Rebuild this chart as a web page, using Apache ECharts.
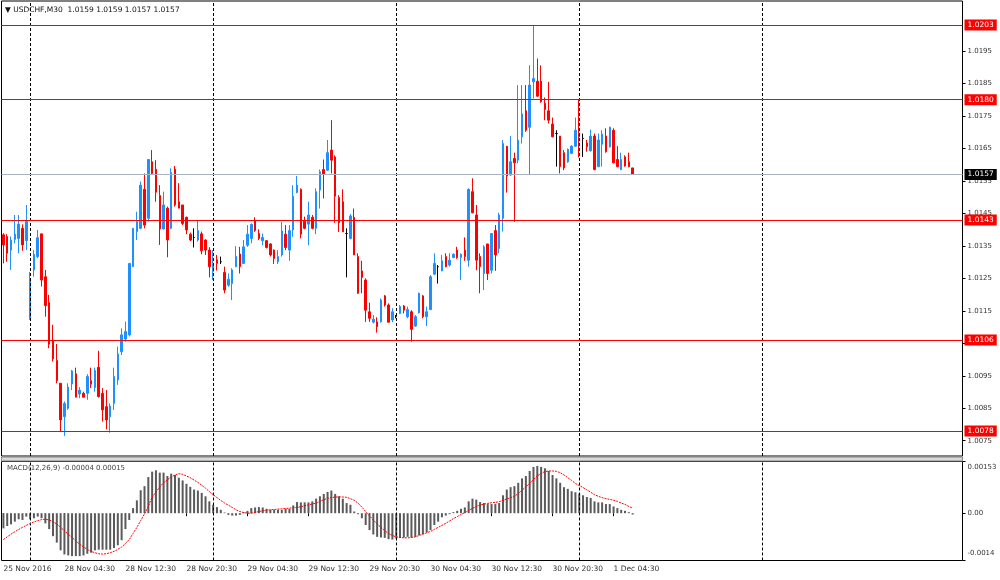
<!DOCTYPE html>
<html><head><meta charset="utf-8">
<script src="https://cdn.jsdelivr.net/npm/echarts@6/dist/echarts.min.js"></script>
<style>html,body{margin:0;padding:0;background:#fff}#c{width:1000px;height:580px}</style>
</head><body><div id="c"></div>
<script>
// ---- data ----
const opens = [1.01384,1.01379,1.01337,1.01370,1.01373,1.01404,1.01366,1.01127,1.01276,1.01317,
1.01387,1.01255,1.01176,1.01060,1.00997,1.00927,1.00824,1.00850,1.00925,1.00956,
1.00894,1.00896,1.00896,1.00935,1.00914,1.00976,1.00896,1.00855,1.00824,1.00865,
1.00937,1.01024,1.01063,1.01076,1.01286,1.01394,1.01404,1.01524,1.01435,1.01609,
1.01586,1.01505,1.01402,1.01466,1.01404,1.01586,1.01486,1.01476,1.01438,1.01386,
1.01376,1.01368,1.01387,1.01368,1.01337,1.01271,1.01307,1.01301,1.01268,1.01229,
1.01234,1.01286,1.01325,1.01296,1.01352,1.01373,1.01427,1.01388,1.01366,1.01366,
1.01356,1.01337,1.01301,1.01322,1.01386,1.01337,1.01399,1.01514,1.01524,1.01426,
1.01417,1.01438,1.01404,1.01522,1.01585,1.01583,1.01645,1.01624,1.01499,1.01486,
1.01388,1.01373,1.01438,1.01317,1.01273,1.01245,1.01147,1.01115,1.01116,1.01116,
1.01196,1.01168,1.01122,1.01132,1.01142,1.01165,1.01132,1.01147,1.01103,1.01144,
1.01196,1.01132,1.01154,1.01263,1.01286,1.01273,1.01317,1.01291,1.01314,1.01337,
1.01314,1.01337,1.01306,1.01517,1.01445,1.01317,1.01265,1.01356,1.01275,1.01397,
1.01342,1.01435,1.01657,1.01568,1.01619,1.01614,1.01686,1.01766,1.01715,1.01855,
1.01857,1.01857,1.01789,1.01766,1.01725,1.01696,1.01688,1.01637,1.01609,1.01635,
1.01657,1.01696,1.01681,1.01667,1.01643,1.01688,1.01594,1.01663,1.01688,1.01655,
1.01706,1.01616,1.01585,1.01624,1.01609,1.01590];
const highs = [1.01389,1.01386,1.01379,1.01445,1.01445,1.01416,1.01476,1.01270,1.01337,1.01399,
1.01387,1.01276,1.01199,1.01107,1.01048,1.00927,1.00871,1.00927,1.00968,1.00975,
1.00915,1.00901,1.00955,1.00975,1.00975,1.01027,1.00912,1.00906,1.00865,1.00975,
1.01040,1.01096,1.01117,1.01296,1.01404,1.01455,1.01548,1.01573,1.01616,1.01645,
1.01614,1.01537,1.01517,1.01471,1.01589,1.01596,1.01543,1.01476,1.01440,1.01391,
1.01404,1.01427,1.01394,1.01370,1.01346,1.01337,1.01322,1.01317,1.01286,1.01265,
1.01281,1.01349,1.01347,1.01368,1.01414,1.01419,1.01438,1.01401,1.01388,1.01368,
1.01358,1.01339,1.01337,1.01424,1.01414,1.01414,1.01537,1.01565,1.01527,1.01440,
1.01486,1.01445,1.01527,1.01585,1.01616,1.01676,1.01737,1.01629,1.01506,1.01524,
1.01404,1.01448,1.01465,1.01327,1.01304,1.01250,1.01175,1.01137,1.01130,1.01188,
1.01199,1.01173,1.01158,1.01137,1.01168,1.01168,1.01163,1.01152,1.01137,1.01206,
1.01199,1.01163,1.01260,1.01327,1.01291,1.01322,1.01327,1.01327,1.01327,1.01347,
1.01327,1.01376,1.01527,1.01558,1.01476,1.01327,1.01352,1.01356,1.01388,1.01414,
1.01452,1.01676,1.01657,1.01688,1.01637,1.01845,1.01845,1.01845,1.01906,1.02027,
1.01927,1.01906,1.01807,1.01855,1.01745,1.01706,1.01688,1.01645,1.01650,1.01660,
1.01745,1.01799,1.01696,1.01676,1.01708,1.01696,1.01696,1.01706,1.01712,1.01717,
1.01712,1.01657,1.01637,1.01629,1.01637,1.01590];
const lows = [1.01296,1.01301,1.01276,1.01358,1.01327,1.01335,1.01337,1.01122,1.01255,1.01312,
1.01225,1.01132,1.01035,1.00994,1.00927,1.00778,1.00765,1.00845,1.00906,1.00884,
1.00881,1.00884,1.00876,1.00912,1.00901,1.00883,1.00809,1.00785,1.00775,1.00845,
1.00922,1.01014,1.01055,1.01071,1.01286,1.01368,1.01401,1.01404,1.01425,1.01568,
1.01486,1.01353,1.01401,1.01315,1.01401,1.01471,1.01466,1.01414,1.01386,1.01365,
1.01345,1.01363,1.01324,1.01322,1.01253,1.01245,1.01274,1.01294,1.01204,1.01224,
1.01183,1.01284,1.01265,1.01294,1.01347,1.01358,1.01393,1.01368,1.01352,1.01342,
1.01317,1.01294,1.01294,1.01317,1.01337,1.01304,1.01378,1.01512,1.01373,1.01401,
1.01352,1.01401,1.01386,1.01465,1.01496,1.01581,1.01573,1.01421,1.01393,1.01393,
1.01253,1.01370,1.01322,1.01202,1.01204,1.01116,1.01116,1.01111,1.01083,1.01114,
1.01163,1.01114,1.01115,1.01127,1.01140,1.01142,1.01127,1.01055,1.01101,1.01142,
1.01127,1.01103,1.01152,1.01260,1.01234,1.01272,1.01284,1.01286,1.01312,1.01310,
1.01245,1.01304,1.01286,1.01450,1.01275,1.01204,1.01214,1.01245,1.01265,1.01273,
1.01327,1.01394,1.01514,1.01566,1.01424,1.01604,1.01665,1.01701,1.01568,1.01804,
1.01809,1.01791,1.01737,1.01727,1.01684,1.01594,1.01573,1.01583,1.01606,1.01633,
1.01655,1.01622,1.01624,1.01640,1.01640,1.01583,1.01592,1.01594,1.01637,1.01653,
1.01604,1.01592,1.01583,1.01594,1.01592,1.01570];
const closes = [1.01353,1.01327,1.01368,1.01386,1.01417,1.01353,1.01425,1.01245,1.01324,1.01375,
1.01245,1.01166,1.01047,1.01002,1.00935,1.00814,1.00865,1.00915,1.00965,1.00884,
1.00906,1.00884,1.00948,1.00924,1.00966,1.00886,1.00845,1.00814,1.00857,1.00948,
1.01017,1.01076,1.01086,1.01296,1.01404,1.01425,1.01537,1.01414,1.01616,1.01573,
1.01515,1.01402,1.01476,1.01368,1.01576,1.01476,1.01466,1.01419,1.01399,1.01368,
1.01376,1.01397,1.01335,1.01337,1.01286,1.01296,1.01296,1.01301,1.01214,1.01247,
1.01276,1.01317,1.01286,1.01347,1.01386,1.01416,1.01397,1.01373,1.01376,1.01345,
1.01322,1.01311,1.01317,1.01396,1.01345,1.01397,1.01503,1.01537,1.01386,1.01404,
1.01445,1.01404,1.01517,1.01578,1.01571,1.01637,1.01614,1.01503,1.01421,1.01393,
1.01388,1.01442,1.01322,1.01204,1.01253,1.01152,1.01127,1.01124,1.01101,1.01183,
1.01168,1.01115,1.01147,1.01132,1.01163,1.01152,1.01154,1.01093,1.01132,1.01204,
1.01132,1.01147,1.01255,1.01296,1.01286,1.01304,1.01286,1.01306,1.01324,1.01314,
1.01324,1.01317,1.01524,1.01452,1.01306,1.01286,1.01347,1.01265,1.01388,1.01322,
1.01445,1.01665,1.01565,1.01609,1.01606,1.01676,1.01756,1.01706,1.01845,1.01865,
1.01811,1.01794,1.01770,1.01737,1.01686,1.01696,1.01594,1.01590,1.01647,1.01657,
1.01706,1.01686,1.01681,1.01655,1.01688,1.01585,1.01676,1.01694,1.01640,1.01715,
1.01606,1.01594,1.01616,1.01596,1.01594,1.01570];
const macdHist = [-0.00045,-0.00038,-0.00033,-0.00025,-0.00018,-0.00020,-0.00010,-0.00018,-0.00015,-0.00010,
-0.00015,-0.00030,-0.00047,-0.00068,-0.00087,-0.00110,-0.00122,-0.00125,-0.00127,-0.00127,
-0.00127,-0.00125,-0.00120,-0.00117,-0.00110,-0.00108,-0.00108,-0.00108,-0.00108,-0.00103,
-0.00095,-0.00080,-0.00047,-0.00020,0.00015,0.00038,0.00068,0.00080,0.00107,0.00123,
0.00127,0.00120,0.00120,0.00110,0.00117,0.00113,0.00105,0.00097,0.00087,0.00078,
0.00070,0.00067,0.00060,0.00050,0.00035,0.00025,0.00018,0.00010,0.00002,-0.00005,
-0.00007,-0.00007,-0.00005,0.00003,0.00007,0.00015,0.00017,0.00018,0.00017,0.00013,
0.00010,0.00010,0.00010,0.00010,0.00013,0.00013,0.00023,0.00033,0.00032,0.00032,
0.00032,0.00035,0.00043,0.00050,0.00057,0.00063,0.00067,0.00057,0.00050,0.00043,
0.00030,0.00025,0.00005,-0.00003,-0.00015,-0.00035,-0.00050,-0.00063,-0.00070,-0.00072,
-0.00073,-0.00077,-0.00078,-0.00075,-0.00073,-0.00072,-0.00070,-0.00072,-0.00070,-0.00065,
-0.00062,-0.00057,-0.00050,-0.00035,-0.00025,-0.00012,-0.00007,-0.00003,0.00003,0.00007,
0.00013,0.00017,0.00035,0.00043,0.00040,0.00033,0.00030,0.00027,0.00027,0.00027,
0.00030,0.00053,0.00070,0.00077,0.00080,0.00090,0.00103,0.00110,0.00125,0.00137,
0.00140,0.00137,0.00133,0.00125,0.00113,0.00103,0.00090,0.00077,0.00072,0.00065,
0.00062,0.00058,0.00053,0.00048,0.00045,0.00035,0.00032,0.00032,0.00027,0.00027,
0.00020,0.00015,0.00010,0.00007,0.00003,-0.00004];
const macdSignal = [-0.00078,-0.00070,-0.00062,-0.00055,-0.00048,-0.00042,-0.00036,-0.00031,-0.00026,-0.00022,
-0.00019,-0.00018,-0.00020,-0.00025,-0.00032,-0.00042,-0.00052,-0.00062,-0.00072,-0.00082,
-0.00092,-0.00100,-0.00107,-0.00113,-0.00117,-0.00120,-0.00121,-0.00120,-0.00117,-0.00113,
-0.00107,-0.00100,-0.00090,-0.00078,-0.00060,-0.00042,-0.00022,-0.00002,0.00020,0.00048,
0.00062,0.00078,0.00090,0.00099,0.00107,0.00113,0.00117,0.00115,0.00110,0.00105,
0.00098,0.00091,0.00083,0.00074,0.00064,0.00055,0.00046,0.00038,0.00030,0.00024,
0.00017,0.00010,0.00005,0.00002,0.00000,0.00000,0.00002,0.00005,0.00007,0.00009,
0.00010,0.00011,0.00012,0.00013,0.00014,0.00015,0.00016,0.00017,0.00019,0.00022,
0.00025,0.00027,0.00030,0.00035,0.00040,0.00044,0.00046,0.00048,0.00048,0.00048,
0.00047,0.00043,0.00038,0.00030,0.00018,0.00005,-0.00008,-0.00020,-0.00032,-0.00042,
-0.00052,-0.00060,-0.00066,-0.00070,-0.00072,-0.00073,-0.00073,-0.00072,-0.00070,-0.00066,
-0.00062,-0.00058,-0.00054,-0.00048,-0.00042,-0.00036,-0.00030,-0.00023,-0.00016,-0.00010,
-0.00004,0.00002,0.00008,0.00014,0.00020,0.00024,0.00027,0.00029,0.00031,0.00032,
0.00034,0.00038,0.00042,0.00046,0.00050,0.00058,0.00068,0.00078,0.00088,0.00100,
0.00110,0.00118,0.00123,0.00125,0.00125,0.00124,0.00120,0.00113,0.00105,0.00097,
0.00088,0.00082,0.00076,0.00069,0.00062,0.00055,0.00050,0.00046,0.00043,0.00041,
0.00038,0.00035,0.00030,0.00026,0.00020,0.00015];
const priceTicks = [1.0195,1.0185,1.0175,1.0165,1.0155,1.0145,1.0135,1.0125,1.0115,1.0105,1.0095,1.0085,1.0075];
const macdTicks = [0.00153, 0, -0.0014];
const macdTickLabels = ['0.00153', '0.00', '-0.0014'];
const levelLines = [1.0203, 1.0180, 1.0143, 1.0106, 1.0078];
const bidLine = 1.0157;
const xTickCats = ['25 Nov 20:30','28 Nov 04:30','28 Nov 12:30','28 Nov 20:30','29 Nov 04:30','29 Nov 12:30','29 Nov 20:30','30 Nov 04:30','30 Nov 12:30','30 Nov 20:30','1 Dec 04:30'];
const xTickLabels = ['25 Nov 2016','28 Nov 04:30','28 Nov 12:30','28 Nov 20:30','29 Nov 04:30','29 Nov 12:30','29 Nov 20:30','30 Nov 04:30','30 Nov 12:30','30 Nov 20:30','1 Dec 04:30'];
const daySeparators = ['28 Nov 00:00','29 Nov 00:00','30 Nov 00:00','1 Dec 00:00','2 Dec 00:00'];
const titleText = '\u25BC USDCHF,M30  1.0159 1.0159 1.0157 1.0157';
const macdTitle = 'MACD(12,26,9) -0.00004 0.00015';

// ---- M30 time categories (weekend skipped), including empty future slots ----
const NCAT = 252;
const MON = ['Jan','Feb','Mar','Apr','May','Jun','Jul','Aug','Sep','Oct','Nov','Dec'];
const pad = n => (n < 10 ? '0' : '') + n;
const categories = [];
(function () {
  let t = Date.UTC(2016, 10, 25, 20, 30);
  for (let i = 0; i < NCAT; i++) {
    const d = new Date(t);
    categories.push(d.getUTCDate() + ' ' + MON[d.getUTCMonth()] + ' ' + pad(d.getUTCHours()) + ':' + pad(d.getUTCMinutes()));
    if (d.getUTCDate() === 25 && d.getUTCHours() === 23 && d.getUTCMinutes() === 30) t = Date.UTC(2016, 10, 28, 0, 0);
    else t += 1800000;
  }
})();

const candleData = opens.map((o, i) => [o, closes[i], lows[i], highs[i]]);
const FONT = 'DejaVu Sans';
const tickSet = new Set(xTickCats);

const sepLines = daySeparators.map(c => ({
  xAxis: categories.indexOf(c),
  lineStyle: { color: '#000', width: 1, type: [3, 2] },
  label: { show: false }
}));
const lvlLabel = (txt, bg) => ({ show: true, position: 'end', distance: 2, formatter: txt, color: '#fff',
  backgroundColor: bg, padding: [2, 3, 1, 3], fontSize: 7.5, fontFamily: FONT });
const levelMarks = levelLines.map(v => ({
  yAxis: v,
  label: lvlLabel(v.toFixed(4), '#ff0000')
}));
const bidMark = [{
  yAxis: bidLine,
  label: lvlLabel(bidLine.toFixed(4), '#000')
}];

const chart = echarts.init(document.getElementById('c'), null, { renderer: 'canvas' });
chart.setOption({
  animation: false,
  backgroundColor: '#fff',
  grid: [
    { left: 1.5, top: 1, width: 961, height: 455, show: true, borderColor: '#000', borderWidth: 1 },
    { left: 1.5, top: 461.5, width: 961, height: 99, show: true, borderColor: '#000', borderWidth: 1 }
  ],
  xAxis: [
    { type: 'category', gridIndex: 0, data: categories, boundaryGap: true,
      axisLine: { show: false }, axisTick: { show: false }, axisLabel: { show: false }, splitLine: { show: false } },
    { type: 'category', gridIndex: 1, data: categories, boundaryGap: true,
      axisLine: { show: false },
      axisTick: { show: true, alignWithLabel: true, length: 3, interval: (i, v) => tickSet.has(v), lineStyle: { color: '#000' } },
      axisLabel: { show: true, interval: (i, v) => tickSet.has(v), align: 'left', margin: 5,
        formatter: v => xTickLabels[xTickCats.indexOf(v)], fontSize: 7.5, fontFamily: FONT, color: '#333' },
      splitLine: { show: false } }
  ],
  yAxis: [
    { type: 'value', gridIndex: 0, position: 'right', min: 1.00703, max: 1.02104, scale: true,
      splitLine: { show: false }, axisLine: { show: false },
      axisTick: { show: true, length: 3, customValues: priceTicks, lineStyle: { color: '#000' } },
      axisLabel: { show: true, customValues: priceTicks, formatter: v => v.toFixed(4), margin: 5,
        fontSize: 7, fontFamily: FONT, color: '#333' } },
    { type: 'value', gridIndex: 1, position: 'right', min: -0.0014, max: 0.00153,
      splitLine: { show: false }, axisLine: { show: false },
      axisTick: { show: true, length: 3, customValues: macdTicks, lineStyle: { color: '#000' } },
      axisLabel: { show: true, customValues: macdTicks, margin: 5,
        formatter: v => {
          const k = macdTicks.findIndex(t => Math.abs(t - v) < 1e-9);
          const s = macdTickLabels[k];
          return k === 0 ? '{t|' + s + '}' : k === 2 ? '{b|' + s + '}' : '{m|' + s + '}';
        },
        rich: {
          t: { fontSize: 7, fontFamily: FONT, color: '#333', padding: [12, 0, 0, 0] },
          m: { fontSize: 7, fontFamily: FONT, color: '#333' },
          b: { fontSize: 7, fontFamily: FONT, color: '#333', padding: [0, 0, 14, 0] }
        } } }
  ],
  graphic: [
    { type: 'text', left: 5, top: 6, z: 100, style: { text: titleText, font: '7.5px "DejaVu Sans"', fill: '#111' } },
    { type: 'text', left: 7, top: 465, z: 100, style: { text: macdTitle, font: '7px "DejaVu Sans"', fill: '#444' } },
    { type: 'rect', shape: { x: 1.5, y: 457, width: 961, height: 4 }, style: { fill: '#d8d8d8', stroke: '#888', lineWidth: 1 }, z: 1 }
  ],
  series: [
    { type: 'candlestick', xAxisIndex: 0, yAxisIndex: 0, data: candleData, barWidth: 2,
      itemStyle: { color: '#1e90ff', color0: '#ff0000', borderColor: '#1e90ff', borderColor0: '#ff0000',
        borderColorDoji: '#000', borderWidth: 1 },
      markLine: { symbol: ['none', 'none'], silent: true, animation: false, data: sepLines } },
    { type: 'line', name: 'bid', xAxisIndex: 0, yAxisIndex: 0, data: [], z: 9,
      markLine: { symbol: ['none', 'none'], silent: true, animation: false, precision: 5,
        lineStyle: { color: '#a8b3bf', width: 1, type: 'solid' }, data: bidMark } },
    { type: 'line', name: 'levels', xAxisIndex: 0, yAxisIndex: 0, data: [], z: 10,
      markLine: { symbol: ['none', 'none'], silent: true, animation: false, precision: 5,
        lineStyle: { color: '#ff0000', width: 1, type: 'solid', opacity: 1 }, data: levelMarks } },
    { type: 'bar', xAxisIndex: 1, yAxisIndex: 1, data: macdHist, barWidth: 2,
      itemStyle: { color: '#5a5a5a' },
      markLine: { symbol: ['none', 'none'], silent: true, animation: false, data: sepLines } },
    { type: 'line', xAxisIndex: 1, yAxisIndex: 1, data: macdSignal, showSymbol: false, smooth: false,
      lineStyle: { color: '#ff0000', width: 1, type: [2, 1] }, z: 5 }
  ]
});
</script>
</body></html>
